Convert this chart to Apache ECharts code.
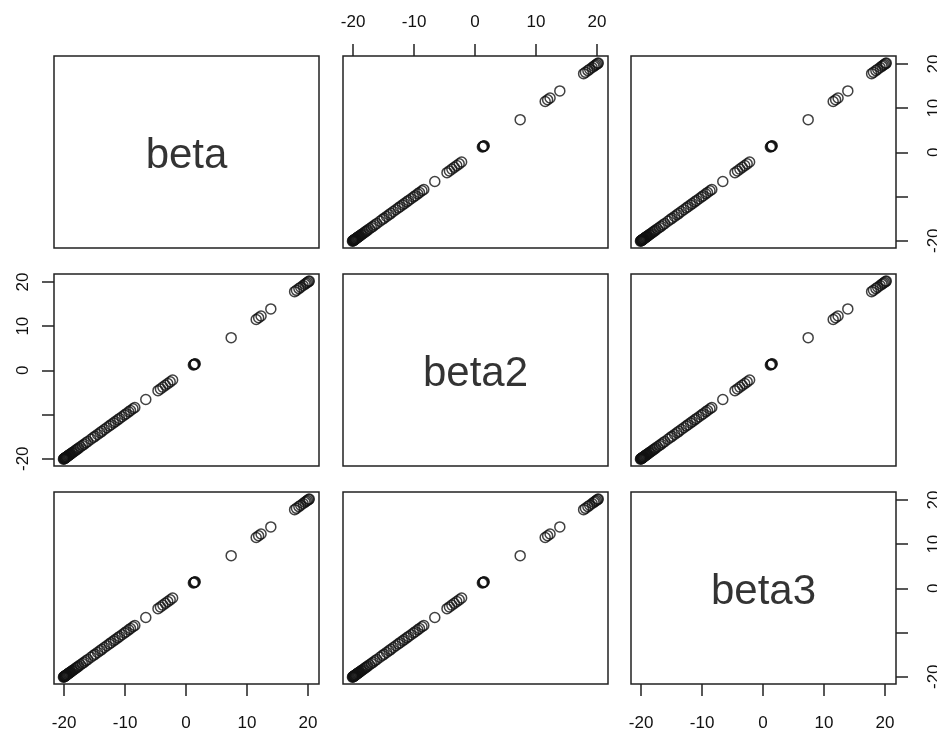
<!DOCTYPE html>
<html>
<head>
<meta charset="utf-8">
<script src="https://cdn.jsdelivr.net/npm/echarts/dist/echarts.min.js"></script>
<style>
  html, body { margin: 0; padding: 0; background: #fff; }
  #chart { width: 937px; height: 733px; }
</style>
</head>
<body>
<div id="chart"></div>
<script>
// ---- data ----
const varNames = ['beta', 'beta2', 'beta3'];
const beta = [-20.1,-20.0,-20.0,-19.9,-19.9,-19.8,-19.8,-19.7,-19.6,-19.6,-19.5,-19.4,-19.3,-19.2,-19.1,-19.0,-18.9,-18.7,-18.6,-18.4,-18.2,-18.0,-17.8,-17.6,-17.3,-17.0,-16.7,-16.4,-16.1,-15.6,-15.2,-14.9,-14.5,-14.1,-13.8,-13.4,-13.0,-12.6,-12.3,-11.9,-11.6,-11.2,-10.9,-10.5,-10.1,-9.8,-9.4,-9.1,-8.7,-8.4,-6.6,-4.6,-4.2,-3.8,-3.4,-3.0,-2.6,-2.2,1.2,1.3,1.4,1.4,1.5,7.4,11.5,11.9,12.3,13.9,17.8,18.1,18.5,18.8,19.2,19.5,19.7,19.9,20.1,20.2];
const beta2 = [-20.1,-20.0,-20.0,-19.9,-19.9,-19.8,-19.8,-19.7,-19.6,-19.6,-19.5,-19.4,-19.3,-19.2,-19.1,-19.0,-18.9,-18.7,-18.6,-18.4,-18.2,-18.0,-17.8,-17.6,-17.3,-17.0,-16.7,-16.4,-16.1,-15.6,-15.2,-14.9,-14.5,-14.1,-13.8,-13.4,-13.0,-12.6,-12.3,-11.9,-11.6,-11.2,-10.9,-10.5,-10.1,-9.8,-9.4,-9.1,-8.7,-8.4,-6.6,-4.6,-4.2,-3.8,-3.4,-3.0,-2.6,-2.2,1.2,1.3,1.4,1.4,1.5,7.4,11.5,11.9,12.3,13.9,17.8,18.1,18.5,18.8,19.2,19.5,19.7,19.9,20.1,20.2];
const beta3 = [-20.1,-20.0,-20.0,-19.9,-19.9,-19.8,-19.8,-19.7,-19.6,-19.6,-19.5,-19.4,-19.3,-19.2,-19.1,-19.0,-18.9,-18.7,-18.6,-18.4,-18.2,-18.0,-17.8,-17.6,-17.3,-17.0,-16.7,-16.4,-16.1,-15.6,-15.2,-14.9,-14.5,-14.1,-13.8,-13.4,-13.0,-12.6,-12.3,-11.9,-11.6,-11.2,-10.9,-10.5,-10.1,-9.8,-9.4,-9.1,-8.7,-8.4,-6.6,-4.6,-4.2,-3.8,-3.4,-3.0,-2.6,-2.2,1.2,1.3,1.4,1.4,1.5,7.4,11.5,11.9,12.3,13.9,17.8,18.1,18.5,18.8,19.2,19.5,19.7,19.9,20.1,20.2];
const tickValues = [-20, -10, 0, 10, 20];
const horizLabelValues = [-20, -10, 0, 10, 20];
const vertLabelValues = [-20, 0, 10, 20];   // -10 is dropped (overlap) on the vertical axes
const axisMin = -21.65, axisMax = 21.8;
const labelCenter = [0.075, 0];

// ---- layout ----
const colLeft = [54, 343, 631], colWidth = 265;
const rowTop = [56, 274, 492], rowHeight = 192;
const ink = '#222';
const FONT = '"Liberation Sans", Arial, sans-serif';

const vars = [beta, beta2, beta3];
const grids = [], xAxes = [], yAxes = [], series = [];

for (let r = 0; r < 3; r++) {
  for (let c = 0; c < 3; c++) {
    const idx = grids.length;
    grids.push({
      left: colLeft[c], top: rowTop[r], width: colWidth, height: rowHeight,
      show: true, borderColor: ink, borderWidth: 1.5, backgroundColor: '#fff',
      containLabel: false, outerBoundsMode: 'none'
    });
    let xPos = null;
    if (r === 0 && c === 1) xPos = 'top';
    if (r === 2 && (c === 0 || c === 2)) xPos = 'bottom';
    let yPos = null;
    if (c === 0 && r === 1) yPos = 'left';
    if (c === 2 && (r === 0 || r === 2)) yPos = 'right';

    xAxes.push({
      type: 'value', gridIndex: idx, min: axisMin, max: axisMax,
      position: xPos || 'bottom',
      axisLine: { show: false, onZero: false },
      splitLine: { show: false },
      axisTick: { show: !!xPos, inside: false, length: 12, customValues: tickValues,
                  lineStyle: { color: ink, width: 1.5 } },
      axisLabel: { show: !!xPos, customValues: horizLabelValues,
                   margin: xPos === 'top' ? 25 : 31,
                   color: '#111', fontSize: 17, fontFamily: FONT }
    });
    yAxes.push({
      type: 'value', gridIndex: idx, min: axisMin, max: axisMax,
      position: yPos || 'left',
      axisLine: { show: false, onZero: false },
      splitLine: { show: false },
      axisTick: { show: !!yPos, inside: false, length: 12, customValues: tickValues,
                  lineStyle: { color: ink, width: 1.5 } },
      axisLabel: { show: !!yPos, customValues: vertLabelValues, rotate: 90,
                   margin: yPos === 'left' ? 22 : 30,
                   color: '#111', fontSize: 17, fontFamily: FONT }
    });

    if (r === c) {
      series.push({
        type: 'scatter', xAxisIndex: idx, yAxisIndex: idx,
        data: [{ value: labelCenter, name: varNames[r] }],
        symbolSize: 1, itemStyle: { color: 'rgba(0,0,0,0)' },
        silent: true,
        label: { show: true, position: 'inside', formatter: '{b}', offset: [0, 4],
                 fontSize: 42, color: '#000', fontFamily: FONT }
      });
    } else {
      const pts = vars[c].map((v, i) => [v, vars[r][i]]);
      series.push({
        type: 'scatter', xAxisIndex: idx, yAxisIndex: idx,
        data: pts, symbol: 'circle', symbolSize: 10,
        itemStyle: { color: 'rgba(0,0,0,0)', borderColor: '#111', borderWidth: 1.5 },
        silent: true
      });
    }
  }
}

const chart = echarts.init(document.getElementById('chart'), null, { renderer: 'canvas' });
chart.setOption({
  animation: false,
  backgroundColor: '#fff',
  grid: grids, xAxis: xAxes, yAxis: yAxes, series: series
});
</script>
</body>
</html>
